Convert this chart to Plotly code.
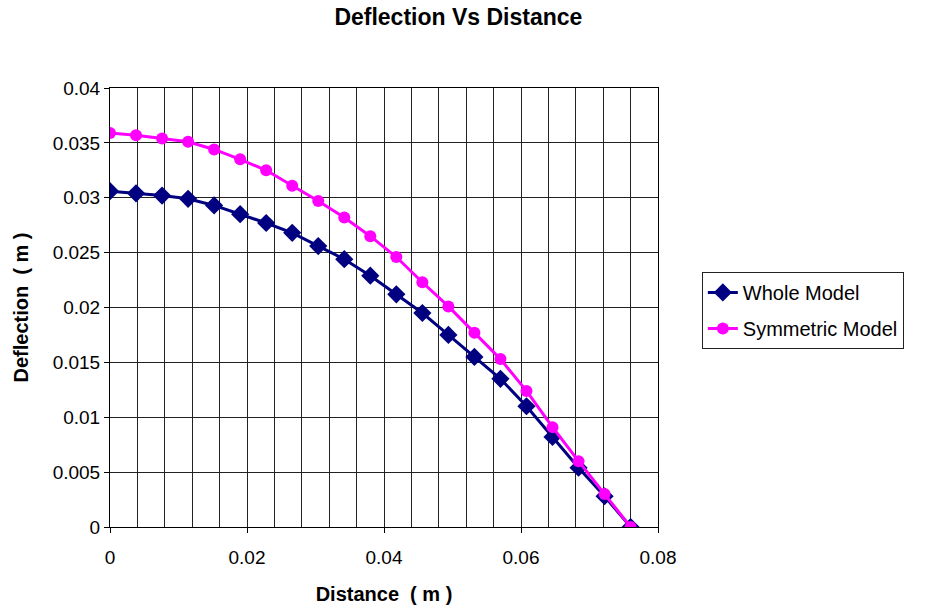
import plotly.graph_objects as go

distance = [0, 0.0038, 0.0076, 0.0114, 0.0152, 0.019, 0.0228, 0.0266, 0.0304, 0.0342,
            0.038, 0.0418, 0.0456, 0.0494, 0.0532, 0.057, 0.0608, 0.0646, 0.0684, 0.0722, 0.076]
whole_model = [0.0306, 0.0304, 0.0302, 0.0299, 0.0293, 0.0285, 0.0277, 0.0268, 0.0256, 0.0244,
               0.0229, 0.0212, 0.0195, 0.0175, 0.0155, 0.0135, 0.0110, 0.0082, 0.0054, 0.0028, 0.0]
symmetric_model = [0.0359, 0.0357, 0.0354, 0.0351, 0.0344, 0.0335, 0.0325, 0.0311, 0.0297, 0.0282,
                   0.0265, 0.0246, 0.0223, 0.0201, 0.0177, 0.0153, 0.0124, 0.0091, 0.0060, 0.0030, 0.0]

FONT = "Liberation Sans, Arial, sans-serif"

fig = go.Figure()
fig.add_trace(go.Scatter(
    x=distance, y=whole_model, name="Whole Model", mode="lines+markers",
    legendgroup="a",
    line=dict(color="#000080", width=3),
    marker=dict(symbol="diamond", size=14, color="#000080"),
))
fig.add_trace(go.Scatter(
    x=distance, y=symmetric_model, name="Symmetric Model", mode="lines+markers",
    legendgroup="b",
    line=dict(color="#FF00FF", width=3),
    marker=dict(symbol="circle", size=12, color="#FF00FF"),
))

fig.update_layout(
    width=926, height=613,
    margin=dict(l=110, r=268, t=88, b=86),
    paper_bgcolor="white", plot_bgcolor="white",
    font=dict(family=FONT, size=19, color="black"),
    title=dict(text="<b>Deflection Vs Distance</b>", x=0.495, xanchor="center",
               y=0.972, yanchor="middle", font=dict(family=FONT, size=23, color="black")),
    showlegend=True,
    legend=dict(x=1.08, xanchor="left", y=0.581, yanchor="top",
                bordercolor="#222", borderwidth=1, bgcolor="white",
                font=dict(family=FONT, size=20, color="black"),
                itemsizing="trace", tracegroupgap=7),
    xaxis=dict(
        range=[0, 0.08], dtick=0.02, tick0=0,
        showgrid=True, gridcolor="#222", gridwidth=1,
        minor=dict(dtick=0.004, showgrid=True, gridcolor="#222", gridwidth=1, ticks=""),
        ticks="outside", ticklen=5, tickcolor="black",
        ticklabelstandoff=8,
        showline=True, linecolor="black", linewidth=1, mirror=True,
        zeroline=False,
        tickfont=dict(family=FONT, size=19, color="black"),
        title=dict(text="<b>Distance  ( m )</b>", standoff=20,
                   font=dict(family=FONT, size=20, color="black")),
    ),
    yaxis=dict(
        range=[0, 0.04], dtick=0.005, tick0=0,
        showgrid=True, gridcolor="#222", gridwidth=1,
        ticks="outside", ticklen=5, tickcolor="black",
        showline=True, linecolor="black", linewidth=1, mirror=True,
        zeroline=False,
        tickfont=dict(family=FONT, size=19, color="black"),
        title=dict(text="<b>Deflection  ( m )</b>", standoff=18,
                   font=dict(family=FONT, size=20, color="black")),
    ),
)

fig.write_html("out.html")
